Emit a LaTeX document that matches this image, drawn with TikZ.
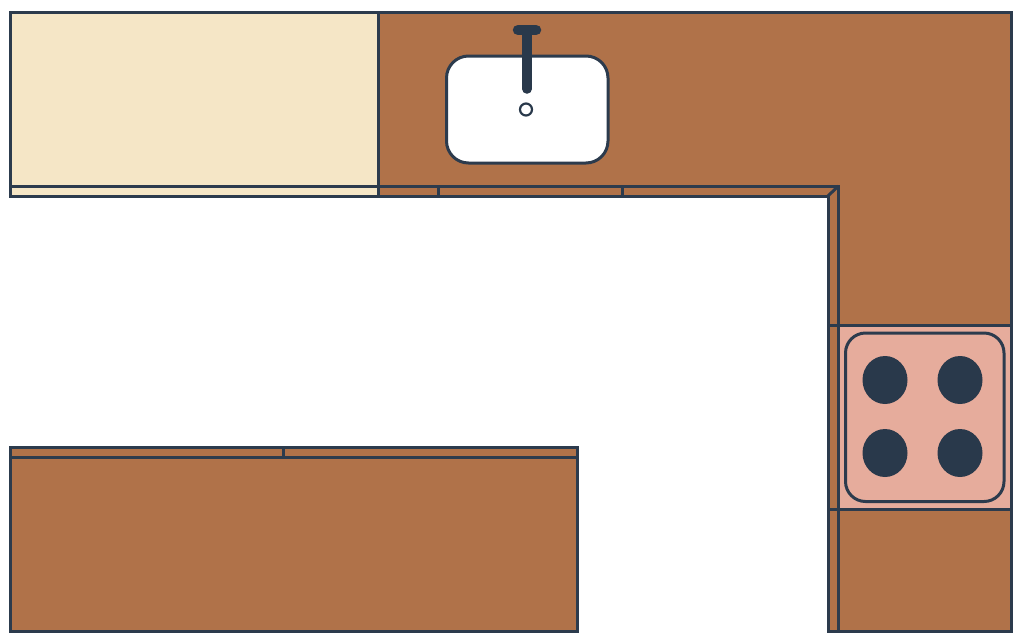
\documentclass[tikz,border=0pt]{standalone}
\begin{document}
\begin{tikzpicture}[x=1pt, y=-1pt]

	\def\xl{10.3}
	\def\xr{1011.3}
	\def\yt{12.3}
	\def\yb{631}
	\def\xf{828}
	\def\xc{838.3}

	% Colours
	\definecolor{linecolor}{HTML}{2C3B4D}
	\definecolor{woodcolor}{HTML}{B07249}
	\definecolor{creamcolor}{HTML}{F5E6C6}
	\definecolor{hobcolor}{HTML}{E6AC9C}
	\definecolor{darkcolor}{HTML}{29394B}

	% Styles
	\tikzstyle{wall}=[draw=linecolor, line width=3pt, line join=miter]
	\tikzstyle{burner}=[fill=darkcolor]
	\tikzstyle{tap}=[draw=darkcolor, line cap=round]

	\useasboundingbox (0, 0) rectangle (1025, 638);

	% Worktop along the wall
	\filldraw[wall, fill=creamcolor] (\xl, \yt) rectangle (378.5, 196);
	\filldraw[wall, fill=woodcolor] (378.5, \yt) -- (\xr, \yt) -- (\xr, \yb) -- (\xf, \yb) -- (\xf, 196) -- (378.5, 196) -- cycle;

	% Front edges
	\draw[wall] (\xl, 186) -- (\xc, 186) -- (\xc, \yb);
	\draw[wall] (\xf, 196) -- (\xc, 186);
	\draw[wall] (438.5, 186) -- (438.5, 196);
	\draw[wall] (622.5, 186) -- (622.5, 196);

	% Sink
	\filldraw[wall, fill=white, rounded corners=22pt] (446.5, 56) rectangle (608, 163);
	\draw[tap, line width=9.5pt] (527, 32) -- (527, 89);
	\draw[tap, line width=10.5pt] (518, 30) -- (536, 30);
	\filldraw[draw=darkcolor, fill=white, line width=2.2pt] (526, 109.5) circle (6);

	% Hob
	\filldraw[wall, fill=hobcolor] (\xc, 325) rectangle (\xr, 509.5);
	\draw[wall] (\xf, 325) -- (\xc, 325);
	\draw[wall] (\xf, 509.5) -- (\xc, 509.5);
	\draw[wall, rounded corners=20pt] (845.5, 333) rectangle (1004, 501.5);
	\foreach \xb in {885, 960}
		\foreach \yh in {380, 453}
			\fill[burner] (\xb, \yh) ellipse (22.5 and 24);

	% Island
	\filldraw[wall, fill=woodcolor] (\xl, 447) rectangle (577.5, \yb);
	\draw[wall] (\xl, 457.5) -- (577.5, 457.5);
	\draw[wall] (283, 447) -- (283, 457.5);

\end{tikzpicture}
\end{document}
